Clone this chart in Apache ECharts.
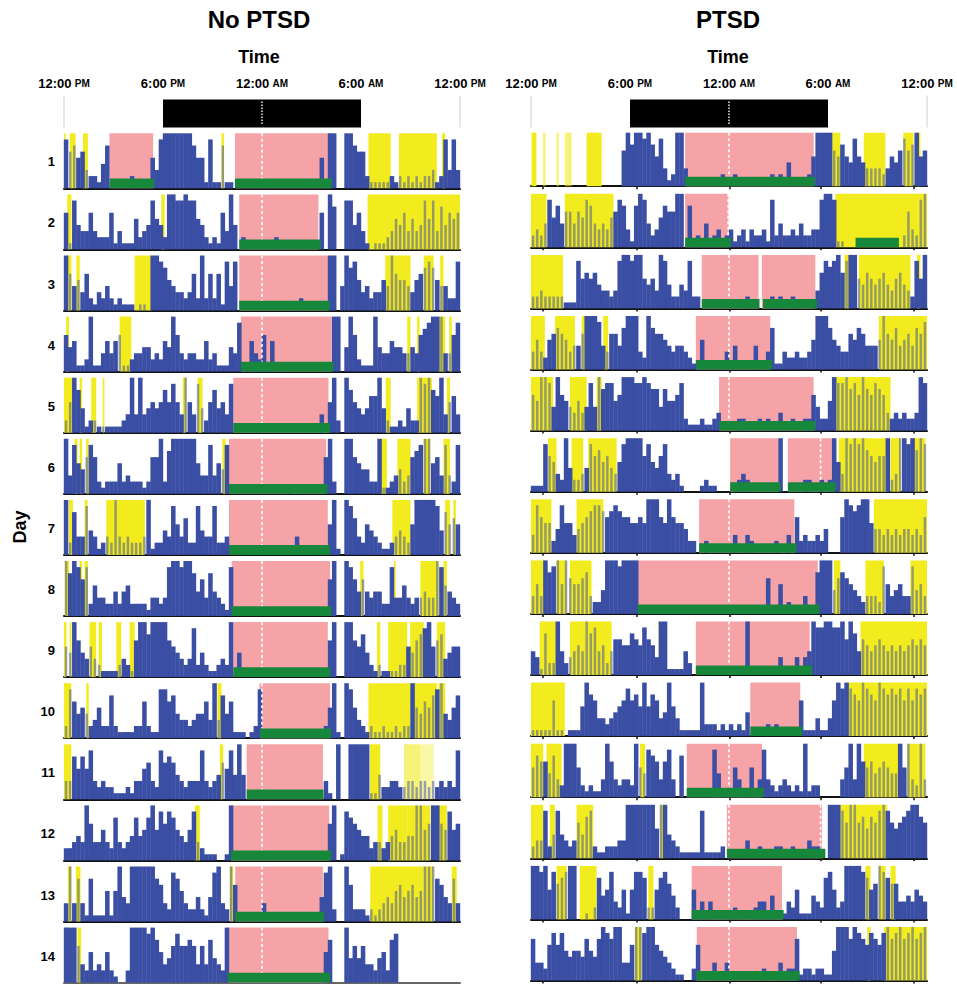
<!DOCTYPE html>
<html><head><meta charset="utf-8">
<script src="https://cdn.jsdelivr.net/npm/echarts@6/dist/echarts.min.js"></script>
<style>html,body{margin:0;padding:0;background:#fff}#c{width:957px;height:986px}</style>
</head><body><div id="c"></div>
<script>
// ---------------- DATA ----------------
const panelTitles = ['No PTSD', 'PTSD'];
const axisTitle = 'Time';
const yTitle = 'Day';
const dayLabels = ['1','2','3','4','5','6','7','8','9','10','11','12','13','14'];
const timeTicks = [0, 6, 12, 18, 24];               // hours after 12:00 PM
const timeTickLabels = [['12:00','PM'],['6:00','PM'],['12:00','AM'],['6:00','AM'],['12:00','PM']];
const nightBand = [6, 18];                          // 6 PM .. 6 AM
const ptsdAxisTicks = [0.7, 6.4, 12.05, 17.55, 23.2];

// activity counts, 15-minute bins from 12:00 PM, level 0-9, four 6-hour segments per day
const activityNoPTSD = [
 ["867563221470000020000538","999999975518117110000010","000000000000005099009976","621111121212121223128383"],
 ["618433632226131115234854","299889885421216394020000","000200000000006097008846","310111235463534858374656"],
 ["964536213242121110110998","754332362926261848000000","000000000200000099049785","342335496554356787544228"],
 ["645112911353561123344232","549632332252311143801532","615000000000000009904962","111943354433436789993368"],
 ["259741221111112393934545","758539538425745380000000","000000000000003059209754","346694211214229897693563"],
 ["938546862122252322212669","279999995338354800000000","000000100000000692009965","442291123423678995638328"],
 ["927338431232932322239122","438536228433822300000000","000000003000000059109863","254321123432599999847565"],
 ["979868253322424522221332","389989974637432180000000","000000000000000069009864","643442283353233433985432"],
 ["549643532111123216997999","965432382421123290400000","000000000000000069009965","742121111225467895673455"],
 ["286454235227211112262118","867433234463937461110128","000000000000000259109853","212112112122954657894357"],
 ["337575832322111213356328","676432333832346584940000","000000000000000310900999","991142233223323323232328"],
 ["223439633532732347457958","687543583211100190000000","000000000000000069018765","442332345334499569965856"],
 ["393731711151594399999976","328753224214893296000000","300000000000004892009622","212123435645645999764373"],
 ["999632523252100299998975","346866763637432900000000","000000000000000570009464","633245278000000000000000"]
];
const activityPTSD = [
 ["000000000000000000000069","799897583129930000000020","020000000020204000025999","965754854333323546867956"],
 ["232485746646587434356873","179842357669907020402302","312313223182422324223389","981100000000000000263289"],
 ["223222221118565643323899","899545398422438220000000","000020000020200200000368","789689954654564356432859"],
 ["353256765344699984366479","993297665434432105000003","040000400371132232235999","754336576444596574564768"],
 ["659984965435348497885699","988987747556821112112300","002200020200300200226422","598897869768763232322398"],
 ["111865329422348675643589","999685468323100001211000","002320000000900000220020","295398989765669239989798"],
 ["386552485534567887678766","556599965965542200200000","030032000002003062322324","000698789954434343443436"],
 ["353978959655673224999899","990000000000000000000000","000000000600502000300799","946765432333285345338453"],
 ["431722942345497845246655","765865399111142000000000","000090000000300030349889","988969746545654545456565"],
 ["111116110111597633234568","675957634953111119222121","212140000202000006111311","369898769876987878686878"],
 ["576647329995212113963233","295487636830700000008400","053005038321232121912200","000359396564565449593293"],
 ["233824843236478211222339","999999599432111118111120","000030020002200200032200","999869967576898656789976"],
 ["998958678990010274583251","588722578642000503030000","020000233040013251114327","852399998756987663343543"],
 ["733268685455475479879933","699899654321100260003003","000000002000302271221221","159997987687689789789789"]
];

// light exposure intervals [start h, end h, (strength)]
const lightNoPTSD = [
 [[0,0.1],[0.35,0.7],[1.15,1.45],[9.55,9.7],[18.45,19.8],[20.3,22.6],[22.9,23.1]],
 [[0.2,0.45],[5.9,6.1],[18.4,24]],
 [[0.2,0.45],[0.75,0.95],[4.28,5.3],[19.47,21.0],[21.8,22.4],[22.8,23.0]],
 [[0.13,0.3],[3.37,4.08],[20.8,21.0],[21.4,21.55],[22.7,23.1],[23.35,23.5]],
 [[0,0.54],[0.95,1.1],[1.65,1.95],[2.35,2.45],[7.2,7.4],[8.1,8.4],[19.5,19.8],[21.4,22.3],[23.2,23.4]],
 [[0.64,0.82],[0.95,1.1],[1.35,1.5],[9.6,9.8],[19.17,19.57],[20.2,21.0],[21.8,22.2],[23.0,23.4]],
 [[0.3,0.54],[1.25,1.43],[2.56,4.9],[19.9,21.0],[23.1,23.4],[23.6,23.75]],
 [[0.05,0.3],[0.95,1.1],[1.25,1.45],[17.95,18.15],[20.0,20.1],[21.6,22.7],[23.0,23.2]],
 [[0,0.15],[0.35,0.45],[1.55,1.95],[2.1,2.3],[3.17,3.47],[3.98,4.28],[18.97,19.17],[19.65,20.8],[20.98,21.8],[22.6,23.1]],
 [[0,0.44],[1.35,1.5],[9.3,9.55],[18.45,21.0],[21.2,22.6],[22.7,23.1]],
 [[0,0.44],[9.45,9.65],[18.55,19.17],[20.6,21.6,0.6],[21.6,22.4,0.4]],
 [[7.93,8.23],[19.0,19.3],[19.65,20.8],[20.8,22.2],[22.7,23.2]],
 [[0.23,0.44],[0.72,1.0],[10.05,10.25],[18.56,21.8],[21.8,22.4],[23.5,23.8]],
 [[0.82,1.04]]
];
const lightPTSD = [
 [[0.03,0.33],[0.72,0.88,0.6],[1.55,1.69,0.6],[2.05,2.46,0.6],[3.37,4.28],[18.25,18.75],[20.17,21.48],[22.57,23.18],[23.4,23.6]],
 [[0,0.94],[2.05,5.0],[18.45,24]],
 [[0,1.95],[19.0,19.3],[19.87,23.0],[23.4,23.6]],
 [[0,0.84],[1.45,2.66],[3.07,3.27],[4.38,4.68],[21.08,24]],
 [[0,1.34],[2.36,3.37],[3.98,4.28],[18.45,21.79]],
 [[1.04,1.55],[2.46,3.17],[3.47,5.19],[18.65,21.59],[21.79,22.4],[23.2,23.9]],
 [[0,1.24],[2.76,4.38],[20.78,24]],
 [[0,0.84],[1.55,2.16],[2.36,3.67],[18.35,18.75],[20.27,21.39],[23.0,24]],
 [[0.53,1.55],[2.36,3.37],[3.37,4.89],[7.72,7.83],[19.97,24]],
 [[0,2.05],[19.16,24]],
 [[0,0.74],[0.94,1.85],[6.61,6.91],[20.17,22.3],[22.8,23.9]],
 [[0,0.74],[1.14,1.45],[2.76,3.77],[7.82,8.02],[18.75,21.59]],
 [[1.55,2.16],[2.96,3.97],[7.11,7.42],[20.27,20.58],[21.08,21.49],[21.79,22.1]],
 [[6.3,6.7],[20.38,20.58],[21.39,24]]
];

// sleep periods (pink) and scored sleep intervals (green)
const sleepNoPTSD = [[[2.76,5.4],[10.36,16.13]],[[10.62,15.42]],[[10.62,16.03]],[[10.72,16.23]],[[10.26,16.03]],[[10.0,15.89]],[[10.0,15.99]],[[10.16,16.13]],[[10.26,15.99]],[[11.84,16.13]],[[11.07,15.69]],[[10.12,16.07]],[[10.38,15.69]],[[9.91,16.03]]];
const sleepBarNoPTSD = [[[2.76,5.45],[10.36,16.23]],[[10.62,15.55]],[[10.62,16.1]],[[10.72,16.33]],[[10.26,16.13]],[[10.0,15.97]],[[10.0,16.13]],[[10.16,16.19]],[[10.26,16.13]],[[11.88,16.19]],[[11.07,15.73]],[[10.12,16.19]],[[10.38,15.77]],[[9.91,16.13]]];
const sleepPTSD = [[[9.34,17.13]],[[9.34,11.97]],[[10.35,13.79],[13.99,17.23]],[[9.99,14.5]],[[11.4,17.13]],[[12.07,15.01],[15.57,18.35]],[[10.19,15.96]],[[6.47,17.38]],[[9.99,16.89]],[[13.29,16.32]],[[9.44,14.0]],[[11.87,17.64]],[[9.74,15.21]],[[10.05,16.12]]];
const sleepBarPTSD = [[[9.34,17.2]],[[9.34,12.12],[19.67,22.3]],[[10.35,13.85],[14.06,17.33]],[[9.99,14.6]],[[11.4,17.23]],[[12.07,15.11],[15.57,18.45]],[[10.19,16.08]],[[6.47,17.48]],[[9.99,17.03]],[[13.29,16.42]],[[9.44,14.1]],[[11.87,17.84]],[[9.74,15.31]],[[10.0,16.28]]];
const extraMarksPTSD = [[],[11.95],[],[],[],[17.55],[],[],[],[],[],[17.55],[],[]];

// ---------------- BUILD ----------------
const FONT = '"Liberation Sans", Arial, Helvetica, sans-serif';
const BIN_H = 0.25, SEG_BINS = 24, FULL = 9, GREEN_H = 1.6;
const COLORS = ['#f5a3a6', '#f2eb1e', '#3a4ea3', '#17873c'];
const panels = [
  {act: activityNoPTSD, light: lightNoPTSD, sleep: sleepNoPTSD, bar: sleepBarNoPTSD, extra: null,
   left: 64, width: 396, top0: 133.3, h: 55, cx: 259},
  {act: activityPTSD, light: lightPTSD, sleep: sleepPTSD, bar: sleepBarPTSD, extra: extraMarksPTSD,
   left: 531, width: 396, top0: 132.7, h: 53.5, cx: 728}
];
const PITCH = 61.1;
const MIDNIGHT = timeTicks[2];

function buildRow(act, light, pink, green, extra) {
  const d = [];
  pink.forEach(([s, e]) => d.push([s, e, 0, FULL, 0, 1]));
  light.forEach(([s, e, o]) => d.push([s, e, 0, FULL, 1, o == null ? 1 : o]));
  act.forEach((seg, k) => {
    for (let j = 0; j < seg.length && j < SEG_BINS; j++) {
      const v = +seg[j];
      if (!v) continue;
      const x0 = (k * SEG_BINS + j) * BIN_H, x1 = x0 + BIN_H, xm = (x0 + x1) / 2;
      const dim = light.some(([s, e]) => xm >= s && xm <= e) ? 1 : 0;
      d.push([x0, x1, 0, v, 2, dim]);
    }
  });
  const marks = [];
  if (pink.some(([s, e]) => MIDNIGHT > s && MIDNIGHT < e)) marks.push(MIDNIGHT);
  (extra || []).forEach(x => marks.push(x));
  marks.forEach(x => d.push([x, x, GREEN_H, FULL, 4, 1]));
  green.forEach(([s, e]) => d.push([s, e, 0, GREEN_H, 3, 1]));
  return d;
}

function renderRow(params, api) {
  const x0 = api.value(0), x1 = api.value(1), y0 = api.value(2), y1 = api.value(3);
  const kind = api.value(4), ex = api.value(5);
  const a = api.coord([x0, y1]), b = api.coord([x1, y0]);
  if (kind === 4) {
    return {type: 'line', z2: 4, shape: {x1: a[0], y1: a[1], x2: a[0], y2: b[1]},
      style: {stroke: '#ffffff', lineWidth: 1.6, lineDash: [3, 2.5]}};
  }
  let op = 1, x = a[0], w = b[0] - a[0];
  if (kind === 1) op = ex;
  if (kind === 2) {
    if (ex) { op = 0.5; x = x + w * 0.2; w = w * 0.6; }
    else { x -= 0.2; w += 0.4; }
  }
  return {type: 'rect', z2: kind === 3 ? 5 : kind,
    shape: {x: x, y: a[1], width: w, height: b[1] - a[1]},
    style: {fill: COLORS[kind], opacity: op}};
}

function renderTop(params, api) {
  const x0 = api.value(0), x1 = api.value(1), kind = api.value(2);
  const a = api.coord([x0, 1]), b = api.coord([x1, 0]);
  if (kind === 0) return {type: 'rect', shape: {x: a[0], y: a[1], width: b[0] - a[0], height: b[1] - a[1]}, style: {fill: '#000'}};
  if (kind === 1) return {type: 'line', z2: 3, shape: {x1: a[0], y1: a[1] + 2, x2: a[0], y2: b[1] - 2}, style: {stroke: '#fff', lineWidth: 1.4, lineDash: [1.5, 1.5]}};
  return {type: 'line', shape: {x1: a[0], y1: a[1] - 4, x2: a[0], y2: b[1]}, style: {stroke: '#cfcfcf', lineWidth: 1}};
}

const grid = [], xAxis = [], yAxis = [], series = [], graphic = [];
panels.forEach((P, p) => {
  const gTop = grid.length;
  grid.push({left: P.left, top: 99.5, width: P.width, height: 28});
  xAxis.push({gridIndex: gTop, type: 'value', min: 0, max: 24, interval: 6, position: 'top',
    axisLine: {show: false}, axisTick: {show: false}, splitLine: {show: false},
    axisLabel: {show: true, margin: 10, showMinLabel: true, showMaxLabel: true,
      formatter: v => { const i = timeTicks.indexOf(v); return i < 0 ? '' : '{a|' + timeTickLabels[i][0] + '} {b|' + timeTickLabels[i][1] + '}'; },
      rich: {a: {fontSize: 13, fontWeight: 'bold', fontFamily: FONT, color: '#000'},
             b: {fontSize: 10, fontWeight: 'bold', fontFamily: FONT, color: '#000'}}}});
  yAxis.push({gridIndex: gTop, type: 'value', min: 0, max: 1, show: false});
  series.push({type: 'custom', xAxisIndex: gTop, yAxisIndex: gTop, renderItem: renderTop, silent: true,
    encode: {x: [0, 1]},
    data: [[nightBand[0], nightBand[1], 0], [MIDNIGHT, MIDNIGHT, 1], [timeTicks[0], timeTicks[0], 2], [timeTicks[4], timeTicks[4], 2]]});

  P.act.forEach((act, r) => {
    const g = grid.length;
    const top = P.top0 + PITCH * r;
    grid.push({left: P.left, top: top, width: P.width, height: P.h});
    const lastGray = (p === 0 && r === P.act.length - 1);
    xAxis.push({gridIndex: g, type: 'value', min: 0, max: 24,
      axisLine: {show: true, onZero: false, lineStyle: {color: lastGray ? '#666' : '#111', width: 2}},
      axisTick: p === 1 ? {show: true, customValues: ptsdAxisTicks, length: 3, inside: false, lineStyle: {color: '#111', width: 1.5}} : {show: false},
      axisLabel: {show: false}, splitLine: {show: false}});
    yAxis.push({gridIndex: g, type: 'value', min: 0, max: FULL, show: false});
    series.push({type: 'custom', xAxisIndex: g, yAxisIndex: g, renderItem: renderRow, silent: true,
      encode: {x: [0, 1], y: [2, 3]},
      data: buildRow(act, P.light[r], P.sleep[r], P.bar[r], P.extra ? P.extra[r] : null)});
    if (p === 0) {
      graphic.push({type: 'text', x: 55, y: top + P.h / 2 + 1,
        style: {text: dayLabels[r], font: 'bold 13px ' + FONT, fill: '#000', align: 'right', verticalAlign: 'middle'}});
    }
  });
  graphic.push({type: 'text', x: P.cx, y: 19, style: {text: panelTitles[p], font: 'bold 24px ' + FONT, fill: '#000', align: 'center', verticalAlign: 'middle'}});
  graphic.push({type: 'text', x: P.cx, y: 57, style: {text: axisTitle, font: 'bold 18px ' + FONT, fill: '#000', align: 'center', verticalAlign: 'middle'}});
});
graphic.push({type: 'text', x: 20, y: 527, rotation: Math.PI / 2,
  style: {text: yTitle, font: 'bold 18px ' + FONT, fill: '#000', align: 'center', verticalAlign: 'middle'}});

const chart = echarts.init(document.getElementById('c'), null, {renderer: 'svg'});
chart.setOption({animation: false, backgroundColor: '#fff', grid, xAxis, yAxis, series, graphic});
</script>
</body></html>
